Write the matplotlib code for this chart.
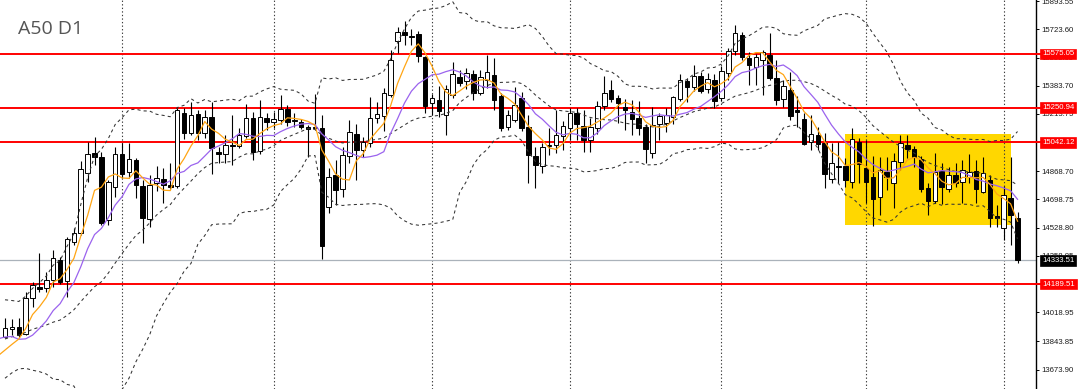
import numpy as np
import pandas as pd
import matplotlib
matplotlib.use("Agg")
import matplotlib.pyplot as plt
from matplotlib.transforms import blended_transform_factory
from matplotlib.patches import Rectangle
from matplotlib.lines import Line2D

# ---------------- data (A50, daily) ----------------
opens = [
    13870, 13919, 13931, 13888, 14105, 14171, 14165, 14214, 14334, 14208,
    14443, 14497, 14858, 14979, 14955, 14575, 14774, 14973, 14864, 14937,
    14780, 14581, 14798, 14822, 14786, 14780, 15220, 15099, 15214, 15099,
    15196, 14985, 14973, 15027, 15021, 15081, 15190, 14991, 15190, 15165,
    15177, 15244, 15171, 15165, 15135, 15135, 15129, 14653, 14846, 14762,
    14961, 15093, 14997, 15039, 15190, 15202, 15328, 15653, 15708, 15686,
    15696, 15557, 15280, 15298, 15208, 15328, 15437, 15412, 15455, 15340,
    15418, 15449, 15322, 15135, 15177, 15310, 15135, 14961, 14900, 15021,
    15027, 15081, 15129, 15220, 15141, 15057, 15129, 15262, 15358, 15310,
    15256, 15226, 15190, 15135, 14979, 15153, 15159, 15196, 15304, 15412,
    15376, 15443, 15364, 15418, 15310, 15461, 15593, 15690, 15551, 15497,
    15539, 15569, 15430, 15304, 15358, 15238, 15183, 15045, 15087, 15039,
    14822, 14903, 14900, 14804, 15045, 14888, 14834, 14714, 14864, 14798,
    14924, 15027, 15003, 14943, 14768, 14690, 14870, 14762, 14846, 14804,
    14834, 14870, 14744, 14816, 14599, 14527, 14708, 14587]
highs = [
    13985, 13979, 13985, 14141, 14202, 14376, 14262, 14394, 14352, 14473,
    14527, 14930, 15045, 15075, 14985, 14816, 15015, 15039, 15039, 14949,
    14816, 14846, 14900, 14888, 14918, 15250, 15250, 15286, 15238, 15238,
    15286, 15015, 15087, 15208, 15129, 15274, 15226, 15298, 15220, 15226,
    15328, 15268, 15220, 15183, 15147, 15334, 15208, 14888, 14937, 15015,
    15177, 15153, 15075, 15316, 15286, 15370, 15599, 15738, 15774, 15726,
    15714, 15563, 15334, 15382, 15388, 15527, 15479, 15491, 15479, 15479,
    15569, 15551, 15340, 15238, 15376, 15346, 15208, 15015, 15039, 15129,
    15238, 15171, 15250, 15250, 15238, 15190, 15292, 15442, 15418, 15328,
    15304, 15298, 15292, 15153, 15256, 15220, 15250, 15322, 15455, 15430,
    15509, 15467, 15461, 15455, 15503, 15611, 15750, 15708, 15587, 15575,
    15599, 15702, 15539, 15418, 15467, 15322, 15220, 15208, 15135, 15099,
    15039, 15045, 14949, 15129, 15069, 15057, 14961, 14955, 14955, 14979,
    15087, 15087, 15021, 14961, 14798, 14979, 14918, 14894, 14918, 14937,
    14973, 14937, 14955, 14846, 14665, 14780, 14955, 14623]
lows = [
    13864, 13882, 13870, 13882, 14051, 14141, 14141, 14171, 14190, 14111,
    14424, 14485, 14804, 14906, 14545, 14545, 14714, 14828, 14828, 14708,
    14437, 14533, 14750, 14677, 14762, 14768, 15063, 15087, 15057, 15069,
    14852, 14918, 14918, 14906, 15009, 15069, 14937, 14973, 15117, 15129,
    15153, 15141, 15135, 15123, 14955, 15117, 14340, 14617, 14665, 14714,
    14918, 14816, 14955, 15015, 15159, 15111, 15316, 15581, 15629, 15629,
    15527, 15220, 15208, 15196, 15087, 15310, 15382, 15364, 15298, 15328,
    15370, 15238, 15111, 15117, 15165, 15111, 14798, 14768, 14858, 14967,
    14979, 14997, 15057, 15057, 14985, 14985, 15093, 15238, 15286, 15159,
    15117, 15087, 15087, 14918, 14949, 15057, 15105, 15153, 15292, 15286,
    15352, 15340, 15340, 15250, 15292, 15418, 15569, 15539, 15388, 15388,
    15328, 15418, 15268, 15256, 15177, 15135, 15027, 14997, 14997, 14768,
    14798, 14798, 14774, 14768, 14798, 14677, 14539, 14605, 14756, 14647,
    14876, 14949, 14894, 14744, 14605, 14677, 14671, 14744, 14774, 14677,
    14798, 14677, 14738, 14533, 14533, 14455, 14424, 14316]
closes = [
    13925, 13931, 13882, 14105, 14184, 14159, 14214, 14346, 14202, 14461,
    14497, 14882, 14973, 14955, 14557, 14804, 14973, 14852, 14943, 14786,
    14587, 14786, 14828, 14786, 14774, 15238, 15099, 15208, 15099, 15196,
    15009, 14973, 15027, 15021, 15087, 15190, 14985, 15196, 15165, 15183,
    15244, 15165, 15177, 15135, 15123, 15129, 14418, 14834, 14756, 14967,
    15105, 14997, 15045, 15190, 15214, 15340, 15539, 15708, 15690, 15680,
    15563, 15262, 15310, 15232, 15364, 15455, 15400, 15461, 15340, 15437,
    15467, 15298, 15129, 15208, 15268, 15129, 14967, 14906, 15015, 15027,
    15087, 15141, 15220, 15153, 15057, 15135, 15262, 15340, 15304, 15280,
    15238, 15183, 15129, 15003, 15147, 15202, 15208, 15316, 15418, 15376,
    15443, 15352, 15424, 15292, 15473, 15593, 15702, 15557, 15509, 15557,
    15587, 15430, 15298, 15382, 15202, 15226, 15033, 15093, 15033, 14852,
    14918, 14897, 14816, 15063, 14912, 14804, 14702, 14876, 14834, 14930,
    15039, 15003, 14955, 14762, 14690, 14864, 14774, 14846, 14798, 14876,
    14864, 14762, 14858, 14587, 14587, 14726, 14605, 14333.51]

# closes before the visible window (estimated from where the indicator
# lines sit at the left edge of the chart)
prior_closes = [13650, 13700, 13760, 13820, 13900, 13960, 14000, 13950, 13900, 13820,
                13900, 14050, 14080, 13960, 13755, 13760, 13720, 13790, 13762]

level_prices = [15575.05, 15250.94, 15042.12, 14189.51]
current_price = 14333.51
axis_ticks = [15893.55, 15723.60, 15553.65, 15383.70, 15213.75, 15043.80, 14868.70,
              14698.75, 14528.80, 14358.85, 14188.90, 14018.95, 13843.85, 13673.90]
grid_bars = [17, 39, 62, 82, 104, 125, 145]
box_bars = (122, 146)
box_prices = (14545, 15093)
title = "A50 D1"

assert len(opens) == len(highs) == len(lows) == len(closes) == 148

# ---------------- figure ----------------
W, H, DPI = 1080, 389, 100
fig = plt.figure(figsize=(W / DPI, H / DPI), dpi=DPI, facecolor="white")
ax_w_px = 1036
ax = fig.add_axes([0, 0, ax_w_px / W, 1])
ax.set_facecolor("white")

o = np.array(opens, float)
h = np.array(highs, float)
l = np.array(lows, float)
c = np.array(closes, float)
idx = np.arange(len(c))

# indicators
allc = pd.Series(list(prior_closes) + list(closes), dtype=float)
xall = np.arange(-len(prior_closes), len(closes))
sma5 = allc.rolling(5).mean()
sma10 = allc.rolling(10).mean()
mid20 = allc.rolling(20).mean()
std20 = allc.rolling(20).std(ddof=0)
up20 = mid20 + 2 * std20
lo20 = mid20 - 2 * std20

# yellow box
ax.add_patch(Rectangle((box_bars[0], box_prices[0]), box_bars[1] - box_bars[0],
                       box_prices[1] - box_prices[0], facecolor="#FFD700",
                       edgecolor="none", zorder=1))

# vertical grid
for g in grid_bars:
    ax.axvline(g, color="#3c3c3c", lw=0.8, ls=(0, (1.2, 2.0)), zorder=1.5)

# horizontal levels
for lv in level_prices:
    ax.axhline(lv, color="#ff0000", lw=1.4, zorder=2)
ax.axhline(current_price, color="#aab2ba", lw=0.9, zorder=2)

# candles
ax.vlines(idx, l, h, color="black", lw=0.8, zorder=3)
bull = c >= o
bottoms = np.minimum(o, c)
heights = np.maximum(np.abs(c - o), 5)
ax.bar(idx, heights, bottom=bottoms, width=0.66,
       color=np.where(bull, "white", "black"), edgecolor="black",
       linewidth=0.7, zorder=4)

# indicator lines
dash = (0, (3, 3))
ax.plot(xall, up20, color="#333333", lw=0.75, ls=dash, zorder=5)
ax.plot(xall, mid20, color="#333333", lw=0.75, ls=dash, zorder=5)
ax.plot(xall, lo20, color="#333333", lw=0.75, ls=dash, zorder=5)
ax.plot(xall, sma10, color="#9b63ee", lw=0.9, zorder=6)
ax.plot(xall, sma5, color="#ffa514", lw=0.9, zorder=6)

# scales
px_per_bar = 6.888
x0_px = 5
ax.set_xlim(-x0_px / px_per_bar, (ax_w_px - x0_px) / px_per_bar)
ax.set_ylim(13557.0, 15900.3)
ax.set_xticks([])

for s in ("left", "top", "bottom"):
    ax.spines[s].set_visible(False)
ax.spines["right"].set_color("black")
ax.spines["right"].set_linewidth(1.0)
ax.yaxis.tick_right()
ax.set_yticks(axis_ticks)
ax.set_yticklabels([f"{t:.2f}" for t in axis_ticks], fontfamily="Liberation Sans",
                   fontsize=5.6, color="#1a1a1a")
ax.tick_params(axis="y", length=2.2, width=0.7, color="black", pad=2.0)

# price labels
tr = blended_transform_factory(ax.transAxes, ax.transData)
xfrac = 1 + 6.0 / ax_w_px
for lv in level_prices:
    ax.add_line(Line2D([1.0, xfrac], [lv, lv], transform=tr, color="#ff0000",
                       lw=1.4, clip_on=False, zorder=7))
    ax.text(xfrac, lv, f"{lv:.2f}", transform=tr, ha="left", va="center",
            fontfamily="Liberation Sans", fontsize=5.6, color="white", zorder=8,
            bbox=dict(boxstyle="square,pad=0.25", facecolor="#ff0000",
                      edgecolor="#ff0000", lw=0.5), clip_on=False)
ax.text(xfrac, current_price, f"{current_price:.2f}", transform=tr, ha="left",
        va="center", fontfamily="Liberation Sans", fontsize=5.6, color="white",
        zorder=8, bbox=dict(boxstyle="square,pad=0.25", facecolor="black",
                            edgecolor="black", lw=0.5), clip_on=False)

# title
fig.text(18 / W, 1 - 29 / H, title, ha="left", va="center", fontsize=14,
         fontfamily="Open Sans", color="#555555")

fig.savefig("out.png", dpi=DPI, facecolor="white")
